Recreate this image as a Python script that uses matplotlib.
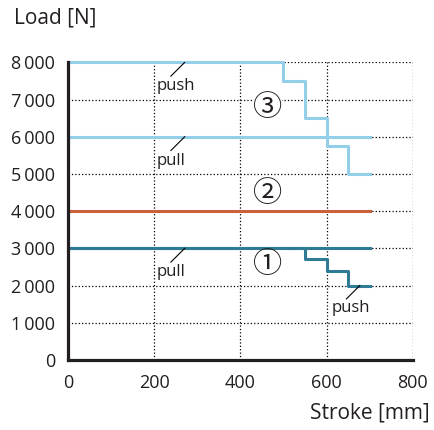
import matplotlib
matplotlib.use('Agg')
import matplotlib.pyplot as plt

plt.rcParams['font.family'] = ['Open Sans', 'DejaVu Sans']

# Stroke breakpoints [mm] and load [N] per curve (steps-post)
stroke_pull = [0, 700]
stroke_push = [0, 550, 600, 650, 700]
stroke_push3 = [0, 500, 550, 600, 650, 700]

load_pull_1 = [3000, 3000]
load_push_1 = [3000, 2700, 2400, 2000, 2000]
load_2 = [4000, 4000]
load_pull_3 = [6000, 6000]
load_push_3 = [8000, 7500, 6500, 5750, 5000, 5000]

x_ticks = [0, 200, 400, 600, 800]
y_ticks = [0, 1000, 2000, 3000, 4000, 5000, 6000, 7000, 8000]

col_light = '#93cfe9'
col_orange = '#c9613c'
col_teal = '#2f7a94'
col_text = '#231f20'

fig = plt.figure(figsize=(4.35, 4.3), dpi=100)
ax = fig.add_axes([0.156, 0.163, 0.793, 0.692])

lw = 2.2
ax.plot(stroke_pull, load_pull_3, color=col_light, lw=lw, clip_on=False, zorder=3)
ax.plot(stroke_push3, load_push_3, color=col_light, lw=lw, drawstyle='steps-post',
        clip_on=False, zorder=3)
ax.plot(stroke_pull, load_2, color=col_orange, lw=lw, zorder=3)
ax.plot(stroke_pull, load_pull_1, color=col_teal, lw=lw, zorder=3)
ax.plot(stroke_push, load_push_1, color=col_teal, lw=lw, drawstyle='steps-post', zorder=3)

ax.set_xlim(0, 800)
ax.set_ylim(0, 8000)
ax.set_xticks(x_ticks)
ax.set_yticks(y_ticks)
ax.set_yticklabels([f'{v:,}'.replace(',', '\u2009') for v in y_ticks])
ax.tick_params(length=0, labelsize=13, colors=col_text)
ax.tick_params(axis='y', pad=9)
ax.tick_params(axis='x', pad=10)

ax.grid(True, color='black', linestyle=(0, (1, 1.7)), lw=0.9, zorder=1)
for s in ['top', 'right']:
    ax.spines[s].set_visible(False)
for s in ['left', 'bottom']:
    ax.spines[s].set_linewidth(2.3)
    ax.spines[s].set_color(col_text)
    ax.spines[s].set_zorder(4)

# leader-line labels for push / pull curves
def tag(text, x_line, y_line, dx, dy, x_text, y_text):
    ax.plot([x_line, x_line - dx], [y_line, y_line - dy], color='black', lw=0.8, zorder=4)
    ax.text(x_text, y_text, text, fontsize=12, color=col_text, ha='left', va='center', zorder=5)

tag('push', 271, 8000, 32, 370, 205, 7360)
tag('pull', 271, 6000, 32, 370, 205, 5360)
tag('pull', 271, 3000, 32, 370, 205, 2360)
tag('push', 677, 2000, 31, 360, 612, 1390)

for num, yv in [('\u2462', 6780), ('\u2461', 4460), ('\u2460', 2550)]:
    ax.text(463, yv, num, fontsize=21, color=col_text, ha='center', va='center',
            family=['Noto Sans CJK JP'], zorder=5,
            bbox=dict(facecolor='white', edgecolor='none', pad=0.2))

fig.text(14 / 435, 1 - 18 / 430, 'Load [N]', fontsize=15, color=col_text, ha='left', va='center')
fig.text(430 / 435, 1 - 413 / 430, 'Stroke [mm]', fontsize=15, color=col_text, ha='right', va='center')

fig.savefig('out.png', dpi=100)
